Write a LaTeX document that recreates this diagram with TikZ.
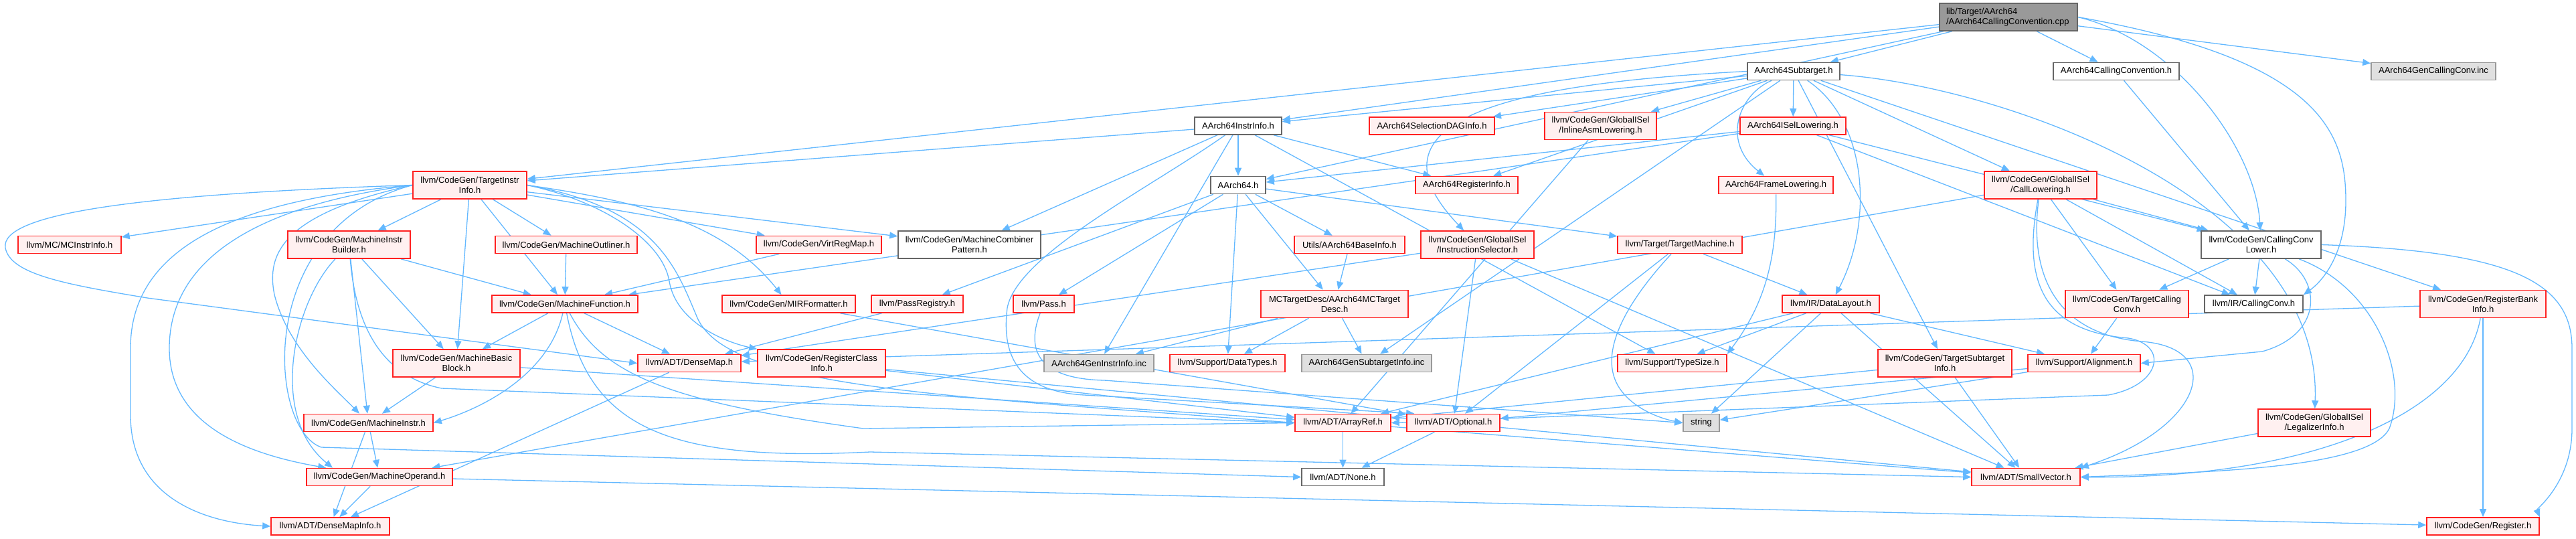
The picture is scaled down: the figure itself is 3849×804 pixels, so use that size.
\documentclass[tikz,border=0pt]{standalone}
\usepackage{fontspec}
\setmainfont{Liberation Sans}
\usepackage{xcolor}
\usetikzlibrary{arrows.meta,backgrounds}
\definecolor{edgeblue}{HTML}{63B8FF}
\definecolor{cutfill}{HTML}{FFF0F0}
\definecolor{cutline}{HTML}{FF2020}
\definecolor{rootfill}{HTML}{999999}
\definecolor{greyline}{HTML}{666666}
\definecolor{genfill}{HTML}{E0E0E0}
\definecolor{genline}{HTML}{999999}

\begin{document}
\begin{tikzpicture}[x=1pt, y=-1pt,
  box/.style={draw, line width=1.6pt, minimum height=26pt, inner sep=0pt, align=center, font=\fontsize{13}{15}\selectfont},
  tall/.style={minimum height=41pt},
  plain/.style={box, draw=greyline, fill=white},
  cut/.style={box, draw=cutline, fill=cutfill},
  gen/.style={box, draw=genline, fill=genfill},
  src/.style={box, tall, draw=greyline, fill=rootfill, inner xsep=10pt, text width=186pt, align=left},
  dep/.style={-{Triangle[length=12pt,width=10pt]}, draw=edgeblue, line width=1.3pt}
]
\useasboundingbox (0,0) rectangle (3849,804);

\node[src] (root) at (3001,25.5) {lib/Target/AArch64\\/AArch64CallingConvention.cpp};

\node[plain, minimum width=138pt] (sub) at (2680,106.5) {AArch64Subtarget.h};
\node[plain, minimum width=188pt] (ccv) at (3162,106.5) {AArch64CallingConvention.h};
\node[gen, minimum width=186pt] (gencc) at (3636,106.5) {AArch64GenCallingConv.inc};

\node[plain, minimum width=130pt] (iinfo) at (1850,188) {AArch64InstrInfo.h};
\node[cut, minimum width=187pt] (sdag) at (2139.5,188) {AArch64SelectionDAGInfo.h};
\node[cut, tall, minimum width=167pt] (asml) at (2391.5,188) {llvm/CodeGen/GlobalISel\\/InlineAsmLowering.h};
\node[cut, minimum width=158pt] (isellow) at (2679,188) {AArch64ISelLowering.h};

\node[cut, tall, minimum width=170pt] (tii) at (702,276.5) {llvm/CodeGen/TargetInstr\\Info.h};
\node[plain, minimum width=82pt] (a64) at (1850,276.5) {AArch64.h};
\node[cut, minimum width=153pt] (reg) at (2191.5,276.5) {AArch64RegisterInfo.h};
\node[cut, minimum width=171pt] (frame) at (2653.5,276.5) {AArch64FrameLowering.h};
\node[cut, tall, minimum width=168pt] (calllow) at (3049,276.5) {llvm/CodeGen/GlobalISel\\/CallLowering.h};

\node[cut, minimum width=154pt] (mcii) at (104,365.5) {llvm/MC/MCInstrInfo.h};
\node[cut, tall, minimum width=183pt] (mib) at (521.5,365.5) {llvm/CodeGen/MachineInstr\\Builder.h};
\node[cut, minimum width=212pt] (outl) at (846,365.5) {llvm/CodeGen/MachineOutliner.h};
\node[cut, minimum width=187pt] (vrm) at (1223.5,365.5) {llvm/CodeGen/VirtRegMap.h};
\node[plain, tall, minimum width=213pt] (mcp) at (1448.5,365.5) {llvm/CodeGen/MachineCombiner\\Pattern.h};
\node[cut, minimum width=165pt] (base) at (2016.5,365.5) {Utils/AArch64BaseInfo.h};
\node[cut, tall, minimum width=169pt] (instsel) at (2207.5,365.5) {llvm/CodeGen/GlobalISel\\/InstructionSelector.h};
\node[cut, minimum width=186pt] (tm) at (2510,365.5) {llvm/Target/TargetMachine.h};
\node[plain, tall, minimum width=179pt] (ccl) at (3378.5,365.5) {llvm/CodeGen/CallingConv\\Lower.h};

\node[cut, minimum width=218pt] (mf) at (844,454) {llvm/CodeGen/MachineFunction.h};
\node[cut, minimum width=199pt] (mirf) at (1178.5,454) {llvm/CodeGen/MIRFormatter.h};
\node[cut, minimum width=137pt] (passreg) at (1370.5,454) {llvm/PassRegistry.h};
\node[cut, minimum width=91pt] (pass) at (1559.5,454) {llvm/Pass.h};
\node[cut, tall, minimum width=220pt] (mctd) at (1994,454) {MCTargetDesc/AArch64MCTarget\\Desc.h};
\node[cut, minimum width=145pt] (dl) at (2735.5,454) {llvm/IR/DataLayout.h};
\node[cut, tall, minimum width=184pt] (tcc) at (3178,454) {llvm/CodeGen/TargetCalling\\Conv.h};
\node[plain, minimum width=147pt] (ircc) at (3367.5,454) {llvm/IR/CallingConv.h};
\node[cut, tall, minimum width=188pt] (rbi) at (3710,454) {llvm/CodeGen/RegisterBank\\Info.h};

\node[cut, tall, minimum width=190pt] (mbb) at (682,542.5) {llvm/CodeGen/MachineBasic\\Block.h};
\node[cut, minimum width=154pt] (dmap) at (1030,542.5) {llvm/ADT/DenseMap.h};
\node[cut, tall, minimum width=191pt] (rci) at (1227.5,542.5) {llvm/CodeGen/RegisterClass\\Info.h};
\node[gen, minimum width=164pt] (geninstr) at (1642,542.5) {AArch64GenInstrInfo.inc};
\node[cut, minimum width=172pt] (dtypes) at (1834,542.5) {llvm/Support/DataTypes.h};
\node[gen, minimum width=194pt] (gensub) at (2042,542.5) {AArch64GenSubtargetInfo.inc};
\node[cut, minimum width=163pt] (tsize) at (2498.5,542.5) {llvm/Support/TypeSize.h};
\node[cut, tall, minimum width=200pt] (tsi) at (2906,542.5) {llvm/CodeGen/TargetSubtarget\\Info.h};
\node[cut, minimum width=168pt] (align) at (3114,542.5) {llvm/Support/Alignment.h};

\node[cut, minimum width=193pt] (mi) at (550.5,631.5) {llvm/CodeGen/MachineInstr.h};
\node[cut, minimum width=143pt] (aref) at (2006.5,631.5) {llvm/ADT/ArrayRef.h};
\node[cut, minimum width=139pt] (opt) at (2171.5,631.5) {llvm/ADT/Optional.h};
\node[gen, minimum width=54pt] (str) at (2542,631.5) {string};
\node[cut, tall, minimum width=168pt] (legal) at (3458,631.5) {llvm/CodeGen/GlobalISel\\/LegalizerInfo.h};

\node[cut, minimum width=218pt] (mop) at (567,712.5) {llvm/CodeGen/MachineOperand.h};
\node[plain, minimum width=123pt] (none) at (2006.5,712.5) {llvm/ADT/None.h};
\node[cut, minimum width=162pt] (svec) at (3027,712.5) {llvm/ADT/SmallVector.h};

\node[cut, minimum width=177pt] (dmi) at (493.5,786) {llvm/ADT/DenseMapInfo.h};
\node[cut, minimum width=168pt] (register) at (3710,786) {llvm/CodeGen/Register.h};

\begin{scope}[on background layer]
\foreach \t in {sub,ccv,gencc,iinfo,a64,tii} \draw[dep] (root) -- (\t);
\draw[dep] (root.east) .. controls (3250,60) and (3370,220) .. (ccl);
\draw[dep] (root.east) .. controls (3470,90) and (3505,200) .. (3505,300) .. controls (3505,380) and (3470,420) .. (ircc.north east);
\foreach \t in {iinfo,sdag,asml,isellow,reg,calllow,rbi,tsi,gensub} \draw[dep] (sub) -- (\t);
\draw[dep] (sub) .. controls (2600,140) and (2570,210) .. (frame);
\draw[dep] (sub) .. controls (2790,180) and (2800,330) .. (dl);
\draw[dep] (sub.west) .. controls (2250,125) and (2030,180) .. (instsel);
\draw[dep] (sub) .. controls (3000,130) and (3470,300) .. (legal);
\draw[dep] (ccv) -- (ccl);
\foreach \t in {tii,a64,reg,mcp,geninstr,tsize} \draw[dep] (iinfo) -- (\t);
\draw[dep] (iinfo) .. controls (1720,280) and (1520,380) .. (1505,460) .. controls (1495,540) and (1530,585) .. (1620,590) -- ([xshift=12pt]opt.north west);
\foreach \t in {a64,mf,ccl,ircc} \draw[dep] (isellow) -- (\t);
\draw[dep] (asml) -- (aref);
\foreach \t in {mcii,mib,outl,vrm,mcp,mf,mbb} \draw[dep] (tii) -- (\t);
\draw[dep] (tii.west) .. controls (200,290) and (0,320) .. (8,370) .. controls (15,410) and (100,425) .. (220,445) -- (dmap.west);
\draw[dep] (tii.west) .. controls (330,300) and (195,380) .. (195,520) -- (195,620) .. controls (195,740) and (300,780) .. (dmi.west);
\draw[dep] (tii.west) .. controls (360,310) and (253,400) .. (253,520) .. controls (253,640) and (380,680) .. ([xshift=30pt]mop.north west);
\draw[dep] (tii.west) .. controls (420,320) and (398,380) .. (410,440) .. controls (430,520) and (500,580) .. (mi);
\draw[dep] (tii.west) .. controls (380,340) and (400,640) .. (480,668) -- (none.west);
\draw[dep] (tii.east) .. controls (950,300) and (1080,330) .. (mirf);
\draw[dep] (tii.east) .. controls (900,300) and (990,360) .. (1000,420) .. controls (1010,480) and (1080,510) .. (rci);
\draw[dep] (tii.east) .. controls (980,310) and (1010,400) .. (1040,470) .. controls (1080,580) and (1400,590) .. (aref.west);
\foreach \t in {passreg,pass,dtypes,base,mctd,tm} \draw[dep] (a64) -- (\t);
\draw[dep] (frame) .. controls (2655,380) and (2640,450) .. (tsize.north east);
\foreach \t in {ccl,tcc,ircc,mop} \draw[dep] (calllow) -- (\t);
\draw[dep] (calllow) .. controls (3030,420) and (3080,500) .. (3200,510) .. controls (3330,520) and (3290,640) .. (svec.north east);
\draw[dep] (calllow) .. controls (3020,430) and (3060,495) .. (3180,505) .. controls (3240,515) and (3230,575) .. (3150,590) -- (aref.east);
\foreach \t in {mf,mbb,mi} \draw[dep] (mib) -- (\t);
\draw[dep] (mib) .. controls (440,450) and (400,620) .. ([xshift=-70pt]mop.north);
\draw[dep] (mib) .. controls (530,470) and (560,560) .. (660,580) -- (aref.west);
\draw[dep] (outl) -- (mf);
\draw[dep] (vrm) -- (mf);
\draw[dep] (base) -- (mctd);
\foreach \t in {dmap,opt,svec} \draw[dep] (instsel) -- (\t);
\foreach \t in {dl,opt} \draw[dep] (tm) -- (\t);
\draw[dep] (tm) .. controls (2450,430) and (2380,520) .. (2420,580) .. controls (2440,610) and (2480,625) .. (str.west);
\foreach \t in {mbb,dmap} \draw[dep] (mf) -- (\t);
\draw[dep] (mf) .. controls (820,560) and (720,610) .. (mi.east);
\draw[dep] (mf) .. controls (900,560) and (1000,600) .. (1290,640) -- (aref.west);
\draw[dep] (mf) .. controls (880,640) and (1000,690) .. (1300,675) -- (svec.west);
\draw[dep] (mirf) -- (opt);
\draw[dep] (passreg) -- (dmap);
\draw[dep] (pass) .. controls (1530,530) and (1560,566) .. (1650,568) -- (str.west);
\foreach \t in {geninstr,dtypes,gensub} \draw[dep] (mctd) -- (\t);
\foreach \t in {aref,tsize,str,svec,align} \draw[dep] (dl) -- (\t);
\draw[dep] (tcc) -- (align);
\foreach \t in {tcc,ircc} \draw[dep] (ccl) -- (\t);
\draw[dep] (ccl.east) .. controls (3750,375) and (3843,420) .. (3843,520) -- (3843,640) .. controls (3843,720) and (3790,760) .. (register.north east);
\draw[dep] (ccl) .. controls (3470,420) and (3470,500) .. (3380,525) -- (align.east);
\draw[dep] (ccl) .. controls (3550,430) and (3600,560) .. (3570,640) .. controls (3540,700) and (3300,705) .. (svec.east);
\draw[dep] (rbi) -- (register);
\draw[dep] (rbi) -- (dmap);
\draw[dep] (rbi) .. controls (3680,620) and (3450,715) .. (svec.east);
\foreach \t in {mi,aref} \draw[dep] (mbb) -- (\t);
\draw[dep] (dmap) -- (dmi);
\foreach \t in {aref,svec} \draw[dep] (rci) -- (\t);
\foreach \t in {aref,svec} \draw[dep] (tsi) -- (\t);
\foreach \t in {opt,str} \draw[dep] (align) -- (\t);
\draw[dep] (legal) -- (svec);
\foreach \t in {mop,dmi} \draw[dep] (mi) -- (\t);
\foreach \t in {none,svec} \draw[dep] (aref) -- (\t);
\draw[dep] (opt) -- (none);
\foreach \t in {dmi,register} \draw[dep] (mop) -- (\t);
\end{scope}
\end{tikzpicture}
\end{document}
